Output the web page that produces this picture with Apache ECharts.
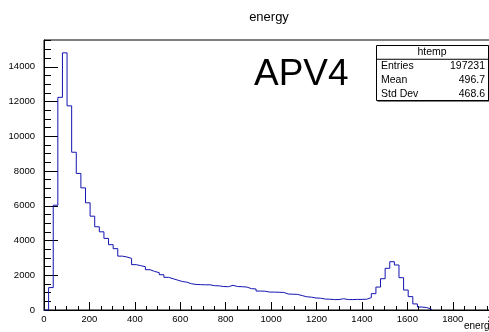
<!DOCTYPE html>
<html><head><meta charset="utf-8">
<script src="https://cdn.jsdelivr.net/npm/echarts@6/dist/echarts.min.js"></script>
<style>html,body{margin:0;padding:0;background:#fff}#c{width:489px;height:332px}</style>
</head><body><div id="c"></div>
<script>
// ---- data ----
const histTitle = 'energy';
const xTitle = 'energy';
const tagText = 'APV4';
const binLow = 0;
const binWidth = 20.3;
const counts = [0,1290,6030,12240,14800,11750,9080,7860,7030,6170,5400,4790,4500,4120,3760,3530,3100,3050,2970,2610,2550,2490,2320,2220,2150,2030,1880,1800,1720,1640,1600,1510,1470,1460,1450,1450,1400,1390,1350,1340,1420,1350,1340,1320,1230,1210,1090,1080,1030,1030,1020,1010,920,910,900,830,760,740,690,680,630,620,600,600,650,600,600,610,610,620,710,940,1320,1800,2400,2780,2590,1860,1150,770,350,170,140,60];
const xMin = 0, xMax = 2030, xMajor = 200, xMinor = 50;
const yMin = 0, yMax = 15540, yMajor = 2000, yMinor = 500;
const statsName = 'htemp';
const statsLabels = ['Entries', 'Mean', 'Std Dev'];
const statsValues = ['197231', '496.7', '468.6'];

// ---- build ----
const pts = counts.map((v, i) => [binLow + i * binWidth, v]);
pts.push([binLow + counts.length * binWidth, 0]);

const FONT = '"Liberation Sans", Arial, Helvetica, sans-serif';
const chart = echarts.init(document.getElementById('c'), null, {renderer: 'canvas'});

const boxL = 376, boxT = 45, boxW = 112, rowH = 13.75;
const g = [];
g.push({type: 'text', x: 269, y: 17, style: {text: histTitle, font: '13px ' + FONT, fill: '#000', textAlign: 'center', textVerticalAlign: 'middle'}});
g.push({type: 'text', x: 254, y: 75, style: {text: tagText, font: '37px ' + FONT, fill: '#000', textAlign: 'left', textVerticalAlign: 'middle'}});
g.push({type: 'text', x: 464, y: 326, style: {text: xTitle, font: '10px ' + FONT, fill: '#000', textAlign: 'left', textVerticalAlign: 'middle'}});
// stats box
g.push({type: 'rect', shape: {x: boxL + 1.5, y: boxT + 1.5, width: boxW, height: rowH * 4}, style: {fill: '#000'}, z: 10});
g.push({type: 'rect', shape: {x: boxL + 0.5, y: boxT + 0.5, width: boxW, height: rowH * 4}, style: {fill: '#fff', stroke: '#000', lineWidth: 1}, z: 11});
g.push({type: 'line', shape: {x1: boxL + 0.5, y1: boxT + rowH + 0.5, x2: boxL + boxW + 0.5, y2: boxT + rowH + 0.5}, style: {stroke: '#000', lineWidth: 1}, z: 12});
g.push({type: 'text', x: boxL + boxW / 2, y: boxT + rowH / 2 + 0.5, z: 12, style: {text: statsName, font: '10.5px ' + FONT, fill: '#000', textAlign: 'center', textVerticalAlign: 'middle'}});
statsLabels.forEach((l, i) => {
  const yc = boxT + rowH * (i + 1.5) + 0.5;
  g.push({type: 'text', x: boxL + 5, y: yc, z: 12, style: {text: l, font: '10.5px ' + FONT, fill: '#000', textAlign: 'left', textVerticalAlign: 'middle'}});
  g.push({type: 'text', x: boxL + boxW - 3, y: yc, z: 12, style: {text: statsValues[i], font: '10.5px ' + FONT, fill: '#000', textAlign: 'right', textVerticalAlign: 'middle'}});
});

const plain = v => String(Math.round(v));
const lbl = {fontFamily: FONT, fontSize: 9.5, color: '#000', formatter: plain};
chart.setOption({
  animation: false,
  backgroundColor: '#fff',
  grid: {left: 44, top: 40, width: 461, height: 270, outerBoundsMode: 'none', containLabel: false,
         show: true, borderColor: '#000', borderWidth: 1, backgroundColor: 'transparent'},
  xAxis: [
    {type: 'value', min: xMin, max: xMax, interval: xMajor, axisLine: {show: true, lineStyle: {color: '#000', width: 1}},
     axisTick: {show: true, inside: true, length: 8, lineStyle: {color: '#000'}},
     axisLabel: Object.assign({margin: 4, showMaxLabel: false}, lbl), splitLine: {show: false}},
    {type: 'value', min: xMin, max: xMax, interval: xMinor, position: 'bottom', axisLine: {show: false},
     axisTick: {show: true, inside: true, length: 4, lineStyle: {color: '#000'}},
     axisLabel: {show: false}, splitLine: {show: false}}
  ],
  yAxis: [
    {type: 'value', min: yMin, max: yMax, interval: yMajor, axisLine: {show: true, lineStyle: {color: '#000', width: 1}},
     axisTick: {show: true, inside: true, length: 14, lineStyle: {color: '#000'}},
     axisLabel: Object.assign({margin: 9, showMaxLabel: false}, lbl), splitLine: {show: false}},
    {type: 'value', min: yMin, max: yMax, interval: yMinor, position: 'left', axisLine: {show: false},
     axisTick: {show: true, inside: true, length: 7, lineStyle: {color: '#000'}},
     axisLabel: {show: false}, splitLine: {show: false}}
  ],
  series: [{
    type: 'line', step: 'end', data: pts, xAxisIndex: 0, yAxisIndex: 0,
    showSymbol: false, symbol: 'none', lineStyle: {color: '#1414b0', width: 1}, z: 5
  }],
  graphic: g
});
</script>
</body></html>
